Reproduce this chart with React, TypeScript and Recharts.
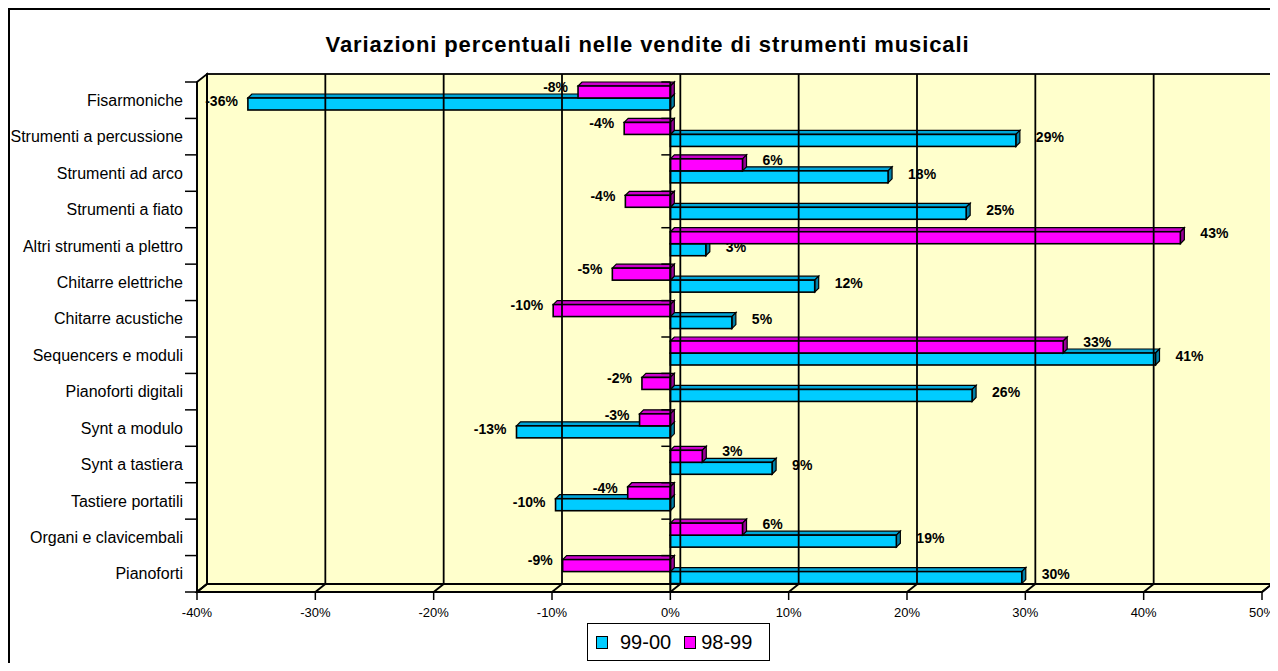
import { BarChart, Bar, XAxis, YAxis, ReferenceArea, ReferenceLine } from "recharts";

const CATEGORIES = [
  "Fisarmoniche",
  "Strumenti a percussione",
  "Strumenti ad arco",
  "Strumenti a fiato",
  "Altri strumenti a plettro",
  "Chitarre elettriche",
  "Chitarre acustiche",
  "Sequencers e moduli",
  "Pianoforti digitali",
  "Synt a modulo",
  "Synt a tastiera",
  "Tastiere portatili",
  "Organi e clavicembali",
  "Pianoforti",
];

// percentuali
const VAR_99_00 = [-35.7, 29.2, 18.4, 25, 3, 12.2, 5.2, 41, 25.5, -13, 8.6, -9.7, 19.1, 29.7];
const VAR_98_99 = [-7.8, -3.9, 6.1, -3.8, 43.1, -4.9, -9.9, 33.2, -2.4, -2.6, 2.7, -3.6, 6.1, -9.1];

const X_TICKS = [-40, -30, -20, -10, 0, 10, 20, 30, 40, 50];

const SERIES = [
  { key: "v9900", name: "99-00", front: "#00CCFF", top: "#00A6D8", side: "#0080A8" },
  { key: "v9899", name: "98-99", front: "#FF00FF", top: "#CC00CC", side: "#990099" },
];

const data = CATEGORIES.map((name, i) => ({ name, v9900: VAR_99_00[i], v9899: VAR_98_99[i] }));

const FONT = "'Liberation Sans', Arial, Helvetica, sans-serif";
const W = 1268;
const H = 653;
const MARGIN = { top: 72, right: 16, bottom: 41, left: 0 };
const BAND = (H - MARGIN.top - MARGIN.bottom - 30) / CATEGORIES.length;
const WALL_DX = 10;
const WALL_DY = -8;
const DEPTH = 4;
const BAR = 12;

function CategoryTick(props: any) {
  const { x, y, payload, index } = props;
  const half = BAND / 2;
  return (
    <g>
      <text x={x} y={y} dy="0.35em" textAnchor="end" fontSize={16} fill="#000" fontFamily={FONT}>
        {payload.value}
      </text>
      <line x1={x + 2} x2={x + 14} y1={y - half} y2={y - half} stroke="#000" strokeWidth={1.5} />
      {index === CATEGORIES.length - 1 && (
        <line x1={x + 2} x2={x + 14} y1={y + half} y2={y + half} stroke="#000" strokeWidth={1.5} />
      )}
    </g>
  );
}

function Walls(p: any) {
  const { x, y, width: w, height: h } = p;
  const dx = WALL_DX, dy = WALL_DY;
  return (
    <g>
      <rect x={x + dx} y={y + dy} width={w} height={h} fill="#FFFFCC" stroke="#000" strokeWidth={1.8} />
      <polygon
        points={`${x},${y} ${x + dx},${y + dy} ${x + dx},${y + h + dy} ${x},${y + h}`}
        fill="#FFFFCC"
        stroke="#000"
        strokeWidth={1.8}
      />
      <polygon
        points={`${x},${y + h} ${x + dx},${y + h + dy} ${x + w + dx},${y + h + dy} ${x + w},${y + h}`}
        fill="#FFFFCC"
        stroke="#000"
        strokeWidth={1.8}
      />
    </g>
  );
}

function GridLine(p: any) {
  const { x1, y1, y2 } = p;
  const top = Math.min(y1, y2), bot = Math.max(y1, y2);
  return (
    <g>
      <line x1={x1 + WALL_DX} x2={x1 + WALL_DX} y1={top + WALL_DY} y2={bot + WALL_DY} stroke="#000" strokeWidth={1.8} />
      <line x1={x1} x2={x1 + WALL_DX} y1={bot} y2={bot + WALL_DY} stroke="#000" strokeWidth={1.8} />
    </g>
  );
}

function ZeroAxis(p: any) {
  const { x1, y1, y2 } = p;
  const top = Math.min(y1, y2), bot = Math.max(y1, y2);
  const step = (bot - top) / CATEGORIES.length;
  return (
    <g>
      <line x1={x1} x2={x1} y1={top} y2={bot} stroke="#000" strokeWidth={2} />
      {CATEGORIES.map((c, i) => (
        <line key={c} x1={x1 - 9} x2={x1} y1={top + i * step} y2={top + i * step} stroke="#000" strokeWidth={1.5} />
      ))}
    </g>
  );
}

function bar3d(s: (typeof SERIES)[number], shift: number, labelDy: number) {
  return (p: any) => {
    const { x, y, width, height, payload } = p;
    const v = payload[s.key];
    const l = Math.min(x, x + width);
    const r = Math.max(x, x + width);
    const t = y + shift;
    const b = t + height;
    const d = DEPTH;
    return (
      <g>
        <polygon points={`${l},${t} ${l + d},${t - d} ${r + d},${t - d} ${r},${t}`} fill={s.top} stroke="#000" strokeWidth={1.2} />
        <polygon points={`${r},${t} ${r + d},${t - d} ${r + d},${b - d} ${r},${b}`} fill={s.side} stroke="#000" strokeWidth={1.2} />
        <rect x={l} y={t} width={r - l} height={height} fill={s.front} stroke="#000" strokeWidth={1.6} />
        <text
          x={v >= 0 ? r + 20 : l - 10}
          y={t + height / 2 + labelDy}
          dy="0.35em"
          textAnchor={v >= 0 ? "start" : "end"}
          fontSize={14}
          fontWeight="bold"
          fontFamily={FONT}
          fill="#000"
        >
          {Math.round(v)}%
        </text>
      </g>
    );
  };
}

export default function App() {
  return (
    <div
      style={{
        position: "relative",
        width: 1268,
        height: 655,
        boxSizing: "border-box",
        borderTop: "2px solid #000",
        borderLeft: "2px solid #000",
        background: "#fff",
        fontFamily: FONT,
      }}
    >
      <BarChart
        width={W}
        height={H}
        data={data}
        layout="vertical"
        margin={MARGIN}
        barSize={BAR}
        barGap={0}
      >
        <ReferenceArea x1={-40} x2={50} shape={Walls} />
        {X_TICKS.map((t) => (
          <ReferenceLine key={t} x={t} shape={GridLine} />
        ))}
        <XAxis
          type="number"
          domain={[-40, 50]}
          ticks={X_TICKS}
          tickFormatter={(v) => `${v}%`}
          axisLine={{ stroke: "#000", strokeWidth: 1.8 }}
          tickLine={{ stroke: "#000", strokeWidth: 1.5 }}
          tickSize={8}
          tickMargin={8}
          height={30}
          tick={{ fontSize: 13, fill: "#000", fontFamily: FONT }}
        />
        <YAxis
          type="category"
          dataKey="name"
          width={187}
          tickLine={false}
          tickSize={12}
          tickMargin={2}
          axisLine={{ stroke: "#000", strokeWidth: 1.8 }}
          tick={CategoryTick}
          interval={0}
        />
        {/* cyan drawn first so the magenta bar covers its top face; positions swapped in the shape */}
        <Bar dataKey="v9900" isAnimationActive={false} shape={bar3d(SERIES[0], BAR - 2, -3)} />
        <Bar dataKey="v9899" isAnimationActive={false} shape={bar3d(SERIES[1], -BAR - 2, -5)} />
        <ReferenceLine x={0} shape={ZeroAxis} />
      </BarChart>
      <div
        style={{
          position: "absolute",
          left: 637.5,
          top: 24,
          transform: "translateX(-50%)",
          whiteSpace: "nowrap",
          fontSize: 22,
          lineHeight: "22px",
          fontWeight: "bold",
          letterSpacing: 0.9,
        }}
      >
        Variazioni percentuali nelle vendite di strumenti musicali
      </div>
      <div
        style={{
          position: "absolute",
          left: 577,
          top: 613,
          width: 183,
          height: 38,
          boxSizing: "border-box",
          border: "1.5px solid #000",
          display: "flex",
          alignItems: "center",
          fontSize: 20,
        }}
      >
        {SERIES.map((s, i) => (
          <div key={s.key} style={{ display: "flex", alignItems: "center" }}>
            <span
              style={{
                display: "inline-block",
                width: 10,
                height: 11,
                background: s.front,
                border: "1px solid #000",
                marginLeft: i === 0 ? 8 : 13,
                marginRight: i === 0 ? 12 : 5,
              }}
            />
            <span>{s.name}</span>
          </div>
        ))}
      </div>
    </div>
  );
}
